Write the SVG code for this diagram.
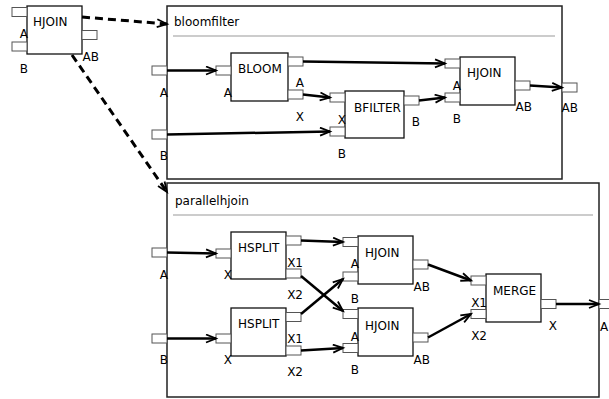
<svg xmlns="http://www.w3.org/2000/svg" width="609" height="399" viewBox="0 0 609 399">
<defs>
<marker id="arr" markerUnits="userSpaceOnUse" markerWidth="14" markerHeight="12" refX="11" refY="5" orient="auto">
<path d="M1,1 L11,5 L1,9" fill="none" stroke="#000" stroke-width="1.8"/>
</marker>
</defs>
<style>
text{font-family:"DejaVu Sans",sans-serif;font-size:12px;fill:#000}
.box{fill:#fff;stroke:#111;stroke-width:1.3}
.port{fill:#fff;stroke:#555;stroke-width:1}
.cont{fill:#fff;stroke:#222;stroke-width:1.5}
.sep{stroke:#999;stroke-width:1}
.e{text-anchor:end}
.c{fill:none;stroke:#000;stroke-width:2.5;marker-end:url(#arr)}
.d{fill:none;stroke:#000;stroke-width:3;stroke-dasharray:8 5;marker-end:url(#arr)}
</style>
<rect width="609" height="399" fill="#fff"/>

<g id="bloomfilter">
<rect class="cont" x="167" y="6" width="395" height="173"/>
<text x="174" y="26">bloomfilter</text>
<line class="sep" x1="173" y1="36" x2="555" y2="36"/>
<rect class="port" x="152" y="66" width="15" height="9"/><text class="e" x="168" y="96.5">A</text>
<rect class="port" x="152" y="130" width="15" height="9"/><text class="e" x="168" y="160">B</text>
<rect class="port" x="562" y="83" width="15" height="9"/><text class="e" x="578" y="112">AB</text>
</g>

<g id="parallelhjoin">
<rect class="cont" x="167" y="183" width="432" height="214"/>
<text x="175" y="205">parallelhjoin</text>
<line class="sep" x1="173" y1="215" x2="593" y2="215"/>
<rect class="port" x="152" y="248" width="15" height="9"/><text class="e" x="168" y="279">A</text>
<rect class="port" x="152" y="334" width="15" height="9"/><text class="e" x="168" y="364">B</text>
<rect class="port" x="599" y="299.5" width="15" height="9"/><text x="600" y="331">A</text>
</g>

<g id="hjoin0">
<rect class="box" x="27" y="6" width="55" height="48"/>
<text x="33" y="26">HJOIN</text>
<rect class="port" x="12" y="7.5" width="15" height="9"/><text class="e" x="28" y="38">A</text>
<rect class="port" x="12" y="42" width="15" height="9"/><text class="e" x="28" y="72.5">B</text>
<rect class="port" x="82" y="30.5" width="15" height="9"/><text class="e" x="99" y="61">AB</text>
</g>

<g id="bloom">
<rect class="box" x="231" y="53" width="57" height="48"/>
<text x="238" y="73">BLOOM</text>
<rect class="port" x="216" y="66" width="15" height="9"/><text class="e" x="232" y="96.5">A</text>
<rect class="port" x="288" y="57" width="15" height="9"/><text class="e" x="304" y="87">A</text>
<rect class="port" x="288" y="90" width="15" height="9"/><text class="e" x="304" y="120.5">X</text>
</g>

<g id="bfilter">
<rect class="box" x="345" y="91" width="59" height="47"/>
<text x="354" y="112">BFILTER</text>
<rect class="port" x="330" y="93" width="15" height="9"/><text class="e" x="346" y="123.5">X</text>
<rect class="port" x="330" y="127" width="15" height="9"/><text class="e" x="346" y="157.5">B</text>
<rect class="port" x="404" y="96" width="15" height="9"/><text class="e" x="420" y="126">B</text>
</g>

<g id="hjoin1">
<rect class="box" x="460" y="57" width="55" height="48"/>
<text x="467" y="76.5">HJOIN</text>
<rect class="port" x="445" y="59" width="15" height="9"/><text class="e" x="461" y="89.5">A</text>
<rect class="port" x="445" y="93" width="15" height="9"/><text class="e" x="461" y="123">B</text>
<rect class="port" x="515" y="81" width="15" height="9"/><text class="e" x="532" y="111">AB</text>
</g>

<g id="hsplit1">
<rect class="box" x="231" y="232" width="55" height="47"/>
<text x="238" y="251.5">HSPLIT</text>
<rect class="port" x="216" y="249" width="15" height="9"/><text class="e" x="232" y="279">X</text>
<rect class="port" x="286" y="236" width="15" height="9"/><text class="e" x="303" y="267">X1</text>
<rect class="port" x="286" y="269" width="15" height="9"/><text class="e" x="303" y="299">X2</text>
</g>

<g id="hsplit2">
<rect class="box" x="231" y="308" width="55" height="48"/>
<text x="238" y="328">HSPLIT</text>
<rect class="port" x="216" y="334" width="15" height="9"/><text class="e" x="232" y="364">X</text>
<rect class="port" x="286" y="312.5" width="15" height="9"/><text class="e" x="303" y="343">X1</text>
<rect class="port" x="286" y="346" width="15" height="9"/><text class="e" x="303" y="376">X2</text>
</g>

<g id="hjoin2">
<rect class="box" x="358" y="236" width="55" height="48"/>
<text x="365" y="257">HJOIN</text>
<rect class="port" x="343" y="237.5" width="15" height="9"/><text class="e" x="359" y="268">A</text>
<rect class="port" x="343" y="272" width="15" height="9"/><text class="e" x="359" y="302.5">B</text>
<rect class="port" x="413" y="260" width="15" height="9"/><text class="e" x="430" y="290.5">AB</text>
</g>

<g id="hjoin3">
<rect class="box" x="358" y="308" width="55" height="48"/>
<text x="365" y="330">HJOIN</text>
<rect class="port" x="343" y="309.5" width="15" height="9"/><text class="e" x="359" y="340.5">A</text>
<rect class="port" x="343" y="343.5" width="15" height="9"/><text class="e" x="359" y="374">B</text>
<rect class="port" x="413" y="333" width="15" height="9"/><text class="e" x="430" y="363.5">AB</text>
</g>

<g id="merge">
<rect class="box" x="486" y="274" width="55" height="48"/>
<text x="493" y="295">MERGE</text>
<rect class="port" x="471" y="276" width="15" height="9"/><text class="e" x="487" y="306.5">X1</text>
<rect class="port" x="471" y="309.5" width="15" height="9"/><text class="e" x="487" y="340">X2</text>
<rect class="port" x="541" y="299.5" width="15" height="9"/><text class="e" x="557" y="330">X</text>
</g>

<g id="connectors">
<line class="c" x1="167" y1="70.5" x2="216" y2="70.5"/>
<line class="c" x1="303" y1="61.5" x2="445" y2="63.5"/>
<line class="c" x1="303" y1="94.5" x2="330" y2="97.5"/>
<line class="c" x1="167" y1="134.5" x2="330" y2="131.5"/>
<line class="c" x1="419" y1="100.5" x2="445" y2="97.5"/>
<line class="c" x1="530" y1="85.5" x2="562" y2="87.5"/>
<line class="c" x1="167" y1="252.5" x2="216" y2="253.5"/>
<line class="c" x1="167" y1="338.5" x2="216" y2="338.5"/>
<line class="c" x1="301" y1="240.5" x2="343" y2="242"/>
<line class="c" x1="301" y1="276" x2="343" y2="311"/>
<line class="c" x1="301" y1="314" x2="343" y2="279"/>
<line class="c" x1="301" y1="350.5" x2="343" y2="348"/>
<line class="c" x1="428" y1="264.5" x2="471" y2="280.5"/>
<line class="c" x1="428" y1="337.5" x2="471" y2="314"/>
<line class="c" x1="556" y1="304" x2="599" y2="304"/>
<line class="d" x1="82" y1="17" x2="167" y2="24"/>
<line class="d" x1="72" y1="55" x2="167" y2="192"/>
</g>
</svg>
